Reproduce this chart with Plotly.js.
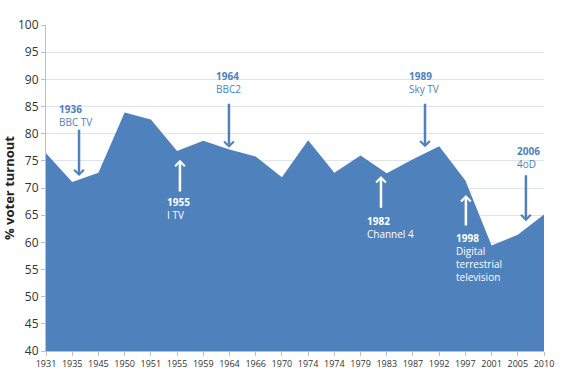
<!DOCTYPE html>
<html>
<head>
<meta charset="utf-8">
<script src="https://cdn.plot.ly/plotly-3.0.1.min.js"></script>
<style>html,body{margin:0;padding:0;background:#fff;}#chart{width:570px;height:391px;}</style>
</head>
<body>
<div id="chart"></div>
<script>
// Election years (category labels; 1974 appears twice: Feb and Oct elections)
var years = ['1931','1935','1945','1950','1951','1955','1959','1964','1966','1970','1974','1974','1979','1983','1987','1992','1997','2001','2005','2010'];
// % voter turnout
var turnout = [76.4,71.1,72.8,83.9,82.6,76.8,78.7,77.1,75.8,72.0,78.8,72.8,76.0,72.7,75.3,77.7,71.4,59.4,61.4,65.1];
// TV milestones
var eventYears = ['1936','1955','1964','1982','1989','1998','2006'];
var eventLabels = ['BBC TV','I TV','BBC2','Channel 4','Sky TV','Digital<br>terrestrial<br>television','4oD'];

var idx = years.map(function(_, i){ return i; });

var BLUE = '#4F81BD';
var FONT = 'Open Sans, Liberation Sans, sans-serif';

// annotation placement (layout only)
var textPos = [[0.42,83.4],[4.55,66.3],[6.41,89.5],[12.17,62.8],[13.77,89.4],[15.57,57.3],[17.9,75.7]];
var arrowPos = [[1.26,81.0,72.2],[5.11,69.1,75.2],[6.98,85.8,77.4],[12.78,66.1,72.2],[14.46,85.8,77.5],[16.02,62.8,68.7],[18.31,72.6,63.9]];
var onFill = [false,true,false,true,false,true,false];

var annotations = [];
eventYears.forEach(function(y, i){
  var c = onFill[i] ? '#ffffff' : BLUE;
  annotations.push({
    x: textPos[i][0], y: textPos[i][1], xref:'x', yref:'y',
    xanchor:'left', yanchor:'middle', align:'left', showarrow:false,
    text: '<b>' + y + '</b><br>' + eventLabels[i],
    font:{family:FONT, size:10, color:c}
  });
  annotations.push({
    x: arrowPos[i][0], y: arrowPos[i][2], ax: arrowPos[i][0], ay: arrowPos[i][1],
    xref:'x', yref:'y', axref:'x', ayref:'y', text:'', showarrow:true,
    arrowhead:4, arrowsize:0.75, arrowwidth:2.5, arrowcolor:c
  });
});

var data = [{
  x: idx, y: turnout, type:'scatter', mode:'lines',
  fill:'tozeroy', fillcolor: BLUE, line:{width:0, color:BLUE},
  hoverinfo:'x+y'
}];

var layout = {
  width:570, height:391,
  margin:{l:46, r:26, t:25, b:40},
  paper_bgcolor:'#fff', plot_bgcolor:'#fff',
  showlegend:false,
  font:{family:FONT, color:'#333'},
  xaxis:{
    range:[0,19], tickmode:'array', tickvals: idx, ticktext: years,
    tickangle:0, tickfont:{size:9, color:'#333'},
    ticks:'outside', ticklen:4, tickcolor:'#bfbfbf',
    showline:true, linecolor:'#bfbfbf', linewidth:1,
    showgrid:false, zeroline:false, fixedrange:true
  },
  yaxis:{
    range:[40,100], dtick:5, tick0:40,
    tickfont:{size:12, color:'#333'},
    ticks:'outside', ticklen:4, tickcolor:'#bfbfbf',
    showline:true, linecolor:'#bfbfbf', linewidth:1,
    showgrid:true, gridcolor:'#dce4f0', gridwidth:1,
    zeroline:false,
    title:{text:'<b>% voter turnout</b>', font:{size:13, color:'#222'}, standoff:4}
  },
  annotations: annotations
};

Plotly.newPlot('chart', data, layout, {displayModeBar:false, staticPlot:true});
</script>
</body>
</html>
